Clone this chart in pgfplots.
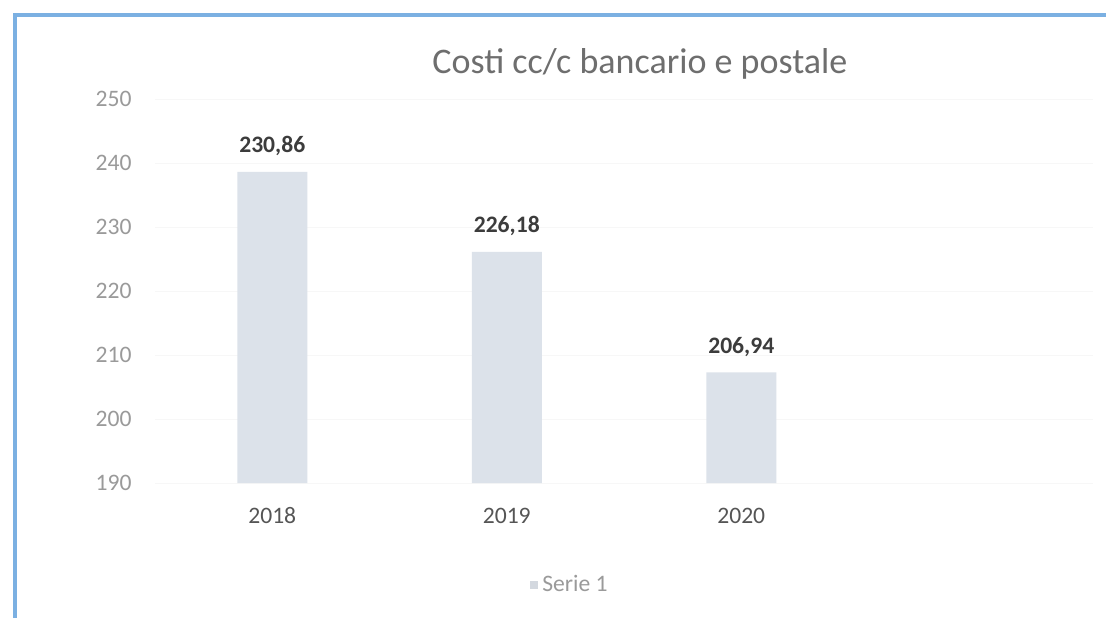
\documentclass[border=0pt]{standalone}
\usepackage{fontspec}
\setmainfont{Carlito}
\usepackage{pgfplots}
\usepackage{pgfplotstable}
\pgfplotsset{compat=1.18}
\definecolor{barcol}{HTML}{DCE2EA}
\definecolor{framecol}{HTML}{7BB0E2}
\definecolor{titlecol}{HTML}{6E6E6E}
\definecolor{ytickcol}{HTML}{9A9A9A}
\definecolor{xtickcol}{HTML}{555555}
\definecolor{labcol}{HTML}{3C3C3C}
\pgfplotstableread{
x y lab
0 238.6 {230,86}
1 226.1 {226,18}
2 207.3 {206,94}
}\costi
\begin{document}
\begin{tikzpicture}
\useasboundingbox[fill=white] (0,0) rectangle (553pt,309pt);
\begin{axis}[
  at={(77.5pt,67.5pt)}, anchor=south west,
  scale only axis, width=469pt, height=192pt,
  xmin=-0.5, xmax=3.5, ymin=190, ymax=250,
  ytick={190,200,...,250},
  xtick={0,1,2}, xticklabels={2018,2019,2020},
  major tick length=0pt,
  axis line style={draw=none},
  ymajorgrids, grid style={color=black!3, line width=0.5pt},
  /pgf/number format/assume math mode=true,
  yticklabel style={font=\fontsize{11.8}{14}\selectfont, text=ytickcol, anchor=east, inner sep=0pt, xshift=-11.5pt},
  xticklabel style={font=\fontsize{11.8}{14}\selectfont, text=xtickcol, anchor=base, inner sep=0pt, yshift=-20pt},
  every axis title shift=0pt,
  title={Costi cc/c bancario e postale},
  title style={at={(0.517,1.0677)}, anchor=base, inner sep=0pt, font=\fontsize{18}{21}\selectfont, text=titlecol},
  legend style={draw=none, fill=none, at={(0.4435,-0.2656)}, anchor=center,
    font=\fontsize{11.8}{14}\selectfont, text=ytickcol},
  legend image code/.code={\fill[barcol!90!gray] (0pt,-2pt) rectangle (4pt,2pt);},
]
\addplot[ybar, bar width=35pt, fill=barcol, draw=none,
  nodes near coords, point meta=explicit symbolic,
  every node near coord/.append style={anchor=base, inner sep=0pt, yshift=9.5pt,
    font=\fontsize{11.8}{14}\selectfont\bfseries, text=labcol}]
  table[x=x, y=y, meta=lab] {\costi};
\addlegendentry{Serie 1}
\end{axis}
\draw[framecol, line width=2pt] (7.5pt,0) -- (7.5pt,301.5pt) -- (553pt,301.5pt);
\end{tikzpicture}
\end{document}
